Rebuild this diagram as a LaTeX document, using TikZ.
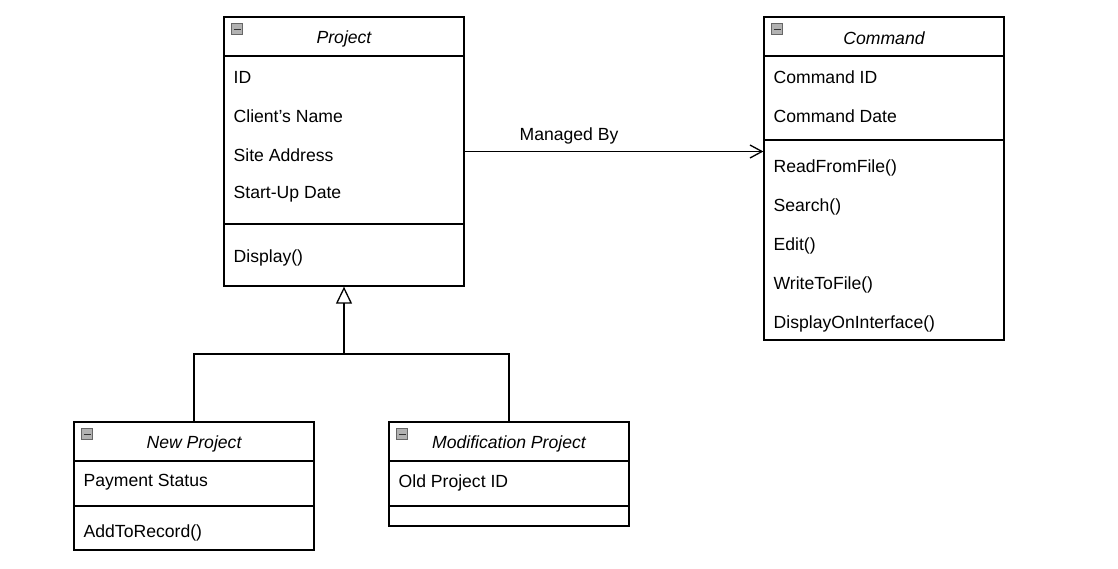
\documentclass[tikz,border=0pt]{standalone}
\usepackage{fontspec}
\setmainfont{Liberation Sans}
\usetikzlibrary{arrows.meta}
\begin{document}
\begin{tikzpicture}[x=1pt,y=-1pt,line width=1.3pt,
  font=\fontsize{17.6}{21}\selectfont,
  classbox/.style={draw,minimum width=240pt,inner sep=0pt},
  attr/.style={anchor=west,inner sep=0pt,yshift=-1.5pt},
  title/.style={font=\fontsize{17.6}{21}\selectfont\itshape,inner sep=0pt,yshift=-1.5pt},
  minusicon/.style={draw=black!60,line width=0.8pt,fill=black!30,minimum size=11pt,inner sep=0pt,
    path picture={\draw[line width=1pt,black!80] ([xshift=2pt]path picture bounding box.west) -- ([xshift=-2pt]path picture bounding box.east);}}]
\useasboundingbox (0,0) rectangle (1118,568);

% Project
\node[classbox,minimum height=269pt] (project) at (344,151.5) {};
\draw (224,56) -- (464,56);
\draw (224,224) -- (464,224);
\node[minusicon] (projicon) at (237,29) {};
\node[title] (projtitle) at (344,37) {Project};
\node[attr] (projid) at (233,76) {ID};
\node[attr] (projclient) at (233,115) {Client's Name};
\node[attr] (projsite) at (233,154) {Site Address};
\node[attr] (projstart) at (233,193) {Start-Up Date};
\node[attr] (projdisplay) at (233,256) {Display()};

% Command
\node[classbox,minimum height=323pt] (command) at (884,178.5) {};
\draw (764,56) -- (1004,56);
\draw (764,140) -- (1004,140);
\node[minusicon] (cmdicon) at (777,29) {};
\node[title] (cmdtitle) at (884,37) {Command};
\node[attr] (cmdid) at (773,76) {Command ID};
\node[attr] (cmddate) at (773,115) {Command Date};
\node[attr] (cmdread) at (773,166) {ReadFromFile()};
\node[attr] (cmdsearch) at (773,205) {Search()};
\node[attr] (cmdedit) at (773,244) {Edit()};
\node[attr] (cmdwrite) at (773,283) {WriteToFile()};
\node[attr] (cmdshow) at (773,322) {DisplayOnInterface()};

% New Project
\node[classbox,minimum height=128pt] (newproj) at (194,486) {};
\draw (74,461) -- (314,461);
\draw (74,506) -- (314,506);
\node[minusicon] (newicon) at (87,434) {};
\node[title] (newtitle) at (194,442) {New Project};
\node[attr] (newpay) at (83,481) {Payment Status};
\node[attr] (newadd) at (83,531) {AddToRecord()};

% Modification Project
\node[classbox,minimum height=104pt] (modproj) at (509,474) {};
\draw (389,461) -- (629,461);
\draw (389,506) -- (629,506);
\node[minusicon] (modicon) at (402,434) {};
\node[title] (modtitle) at (509,442) {Modification Project};
\node[attr] (modold) at (398,481) {Old Project ID};

% association
\draw[-{Straight Barb[length=12pt,width=13pt,line width=1.3pt]},line width=1.1pt]
  (project.east) -- (command.west |- project.east)
  node[midway,above=8pt,xshift=-45pt,inner sep=0pt,yshift=-1.5pt] (managed) {Managed By};

% generalisation
\coordinate (split) at (344,354);
\draw (newproj.north) |- (split) -| (modproj.north);
\draw[-{Triangle[open,length=17pt,width=16pt,line width=1.3pt]}] (split) -- (project.south);
\end{tikzpicture}
\end{document}
